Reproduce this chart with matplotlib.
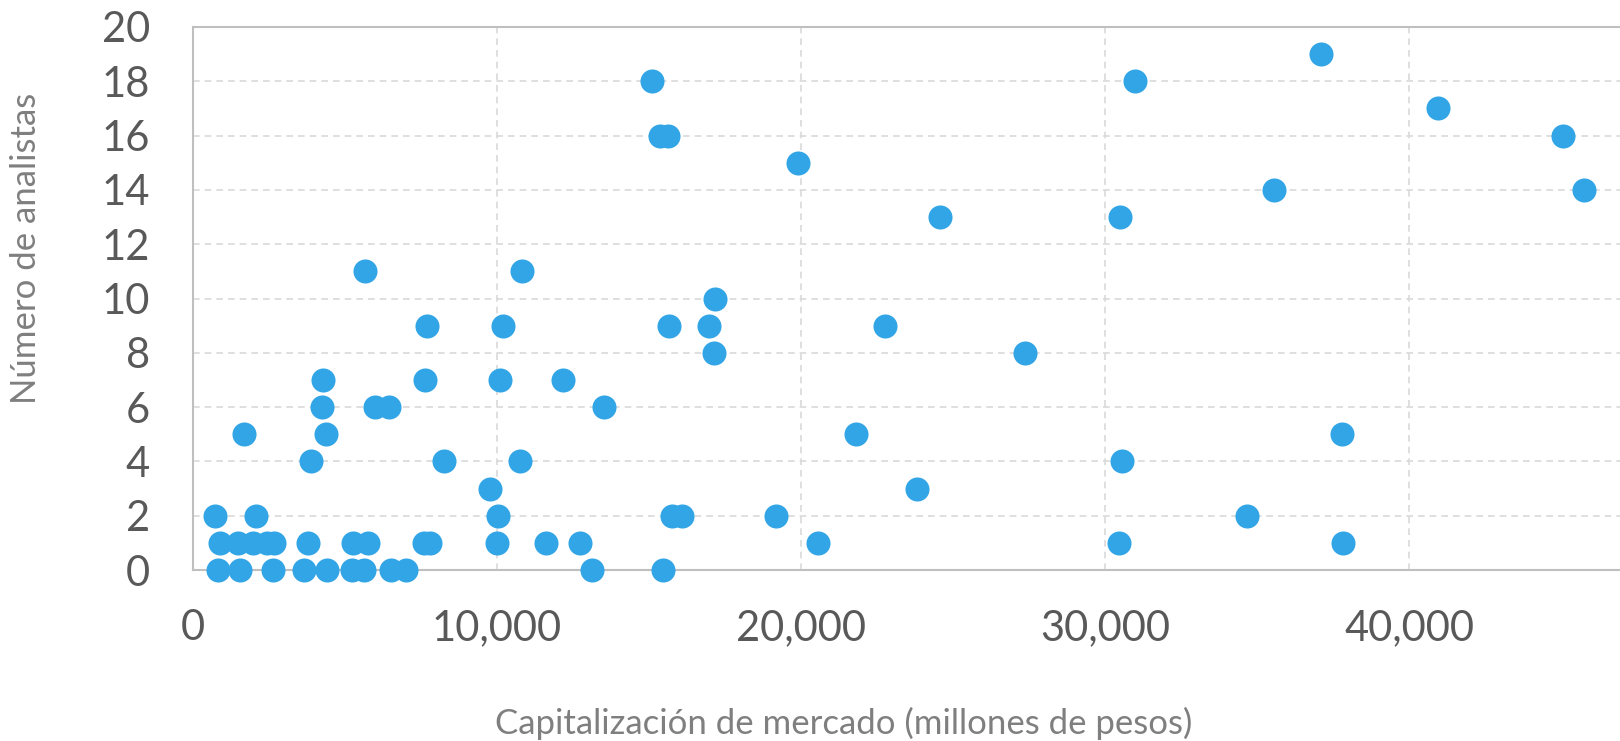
import numpy as np
import matplotlib.pyplot as plt
from matplotlib.ticker import FuncFormatter, MultipleLocator

# capitalizacion de mercado (millones de pesos) y numero de analistas
capitalizacion = [
    811, 1545, 2640, 3637, 4415, 5214, 5620, 6529, 7021, 13112, 15445,
    887, 1490, 1961, 2421, 2673, 3768, 5247, 5761, 7601, 7811, 10012, 11600, 12718, 20569, 30464, 37827,
    723, 2070, 10045, 15762, 16081, 19165, 34670,
    9782, 23810,
    3889, 8249, 10757, 30574,
    1676, 4360, 21814, 37782,
    4250, 6003, 6451, 13529,
    4262, 7624, 10089, 12159,
    17131, 27381,
    7700, 10188, 15665, 16990, 22777,
    17177,
    5663, 10834,
    24564, 30496,
    35553, 45750,
    19891,
    15347, 15620, 45060,
    40953,
    15094, 30983,
    37115,
]
analistas = [
    0, 0, 0, 0, 0, 0, 0, 0, 0, 0, 0,
    1, 1, 1, 1, 1, 1, 1, 1, 1, 1, 1, 1, 1, 1, 1, 1,
    2, 2, 2, 2, 2, 2, 2,
    3, 3,
    4, 4, 4, 4,
    5, 5, 5, 5,
    6, 6, 6, 6,
    7, 7, 7, 7,
    8, 8,
    9, 9, 9, 9, 9,
    10,
    11, 11,
    13, 13,
    14, 14,
    15,
    16, 16, 16,
    17,
    18, 18,
    19,
]
x_ticks = [0, 10000, 20000, 30000, 40000, 50000]

azul = '#32A5E6'
gris_texto = '#595959'
gris_titulo = '#7F7F7F'

plt.rcParams['font.family'] = ['Lato', 'DejaVu Sans']

fig = plt.figure(figsize=(16.2, 7.41), dpi=100)
# plot area runs past the right edge of the picture, like the reference
ax = fig.add_axes([193/1620, 1 - 570/741, 1520/1620, 543/741])

ax.scatter(capitalizacion, analistas, s=300, color=azul, linewidths=0,
           zorder=3, clip_on=False)

ax.set_xlim(0, 50000)
ax.set_ylim(0, 20)
ax.set_xticks(x_ticks)
ax.yaxis.set_major_locator(MultipleLocator(2))
# the 50,000 label falls outside the picture, so leave it blank
ax.xaxis.set_major_formatter(FuncFormatter(lambda v, p: f'{int(v):,}' if v < 45000 else ''))

ax.grid(True, color='#D9D9D9', linestyle=(0, (4, 3)), linewidth=1.2, zorder=0)
ax.set_axisbelow(True)
for s in ax.spines.values():
    s.set_color('#BFBFBF')
    s.set_linewidth(1.5)

ax.tick_params(length=0, labelsize=30, colors=gris_texto)
ax.tick_params(axis='x', pad=28)
ax.tick_params(axis='y', pad=31)

ax.set_xlabel('Capitalización de mercado (millones de pesos)', fontsize=25,
              color=gris_titulo)
ax.set_ylabel('Número de analistas', fontsize=25, color=gris_titulo)
ax.xaxis.set_label_coords((844 - 193) / 1520, (570 - 723) / 543)
ax.yaxis.set_label_coords((26 - 193) / 1520, (570 - 248) / 543)
ax.xaxis.label.set_va('center')
ax.yaxis.label.set_va('center')

fig.savefig('out.png', dpi=100)
